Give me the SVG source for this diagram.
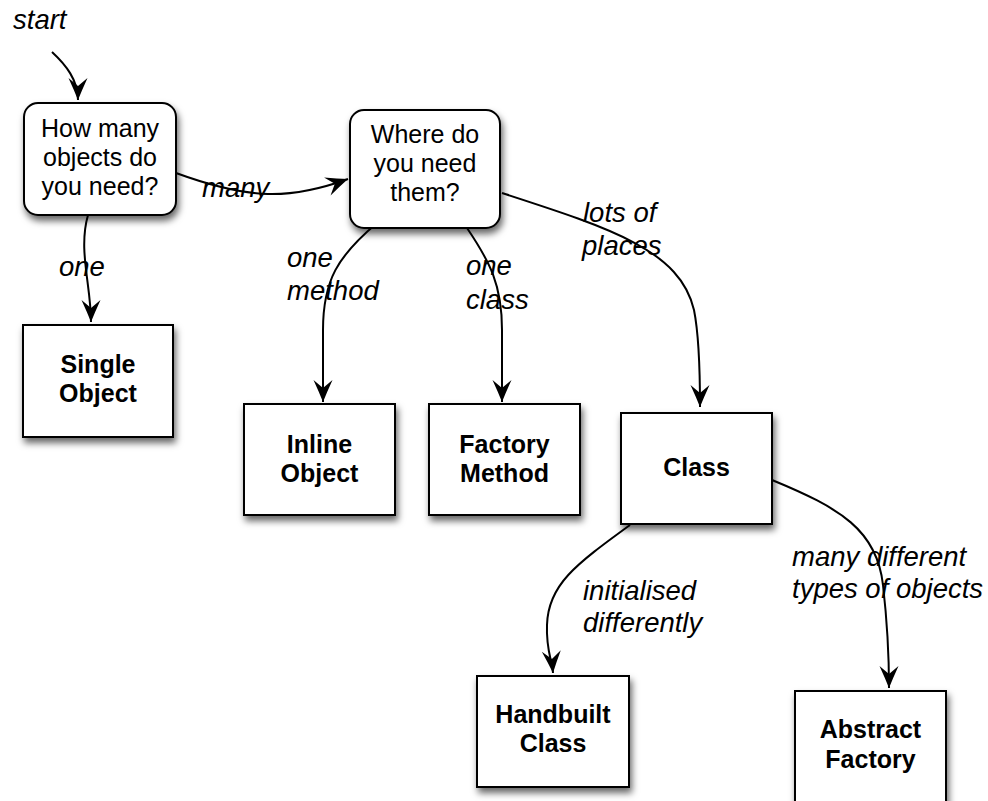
<svg xmlns="http://www.w3.org/2000/svg" width="988" height="801" viewBox="0 0 988 801">
  <style>
    .box { fill: #ffffff; stroke: #000000; stroke-width: 2; filter: url(#shadow); }
    .txt { font-family: "Liberation Sans", Helvetica, Arial, sans-serif; font-size: 25px; fill: #000; text-anchor: middle; }
    .bold { font-weight: bold; }
    .lbl { font-family: "Liberation Sans", Helvetica, Arial, sans-serif; font-size: 27.5px; font-style: italic; fill: #000; }
    .edge { fill: none; stroke: #000; stroke-width: 2; marker-end: url(#ah); }
  </style>
  <defs>
    <filter id="shadow" x="-20%" y="-20%" width="150%" height="150%">
      <feDropShadow dx="2" dy="5" stdDeviation="3.5" flood-color="#000" flood-opacity="0.6"/>
    </filter>
    <marker id="ah" markerUnits="userSpaceOnUse" markerWidth="30" markerHeight="26" viewBox="-26 -13 30 26" refX="0" refY="0" orient="auto">
      <path d="M0,0 Q-10,-4 -22,-9.5 L-14,0 L-22,9.5 Q-10,4 0,0 Z" fill="#000"/>
    </marker>
  </defs>
  <rect width="988" height="801" fill="#ffffff"/>

  <g id="connectors">
    <path class="edge" d="M52,52 C66,65 78,80 78,100"/>
    <path class="edge" d="M176,173 C250,200 290,200 348,179"/>
    <path class="edge" d="M88,215 C78,250 91,285 91,322"/>
    <path class="edge" d="M377,223 C338,256 323,280 323,330 L323,402"/>
    <path class="edge" d="M467,228 C490,262 502,285 502,330 L502,402"/>
    <path class="edge" d="M502,193 C610,228 680,250 694,310 C699,335 700,370 700,407"/>
    <path class="edge" d="M630,525 C575,565 548,585 547,625 C546,650 552,660 553,673"/>
    <path class="edge" d="M772,480 C840,508 877,530 883,585 C887,620 889,650 889,688"/>
  </g>

  <g id="labels">
    <text class="lbl" x="13" y="29">start</text>
    <text class="lbl" x="202" y="197">many</text>
    <text class="lbl" x="59" y="276">one</text>
    <text class="lbl" x="287" y="267">one</text>
    <text class="lbl" x="287" y="300">method</text>
    <text class="lbl" x="466" y="275">one</text>
    <text class="lbl" x="466" y="309">class</text>
    <text class="lbl" x="583" y="222">lots of</text>
    <text class="lbl" x="582" y="255">places</text>
    <text class="lbl" x="583" y="600">initialised</text>
    <text class="lbl" x="583" y="632">differently</text>
    <text class="lbl" x="792" y="566">many different</text>
    <text class="lbl" x="792" y="598">types of objects</text>
  </g>

  <g id="node-how-many">
    <rect class="box" x="24" y="103" width="152" height="112" rx="14" ry="14"/>
    <text class="txt" x="100" y="137">How many</text>
    <text class="txt" x="100" y="166">objects do</text>
    <text class="txt" x="100" y="195">you need?</text>
  </g>

  <g id="node-where">
    <rect class="box" x="350" y="110" width="150" height="118" rx="14" ry="14"/>
    <text class="txt" x="425" y="143">Where do</text>
    <text class="txt" x="425" y="172">you need</text>
    <text class="txt" x="425" y="201">them?</text>
  </g>

  <g id="node-single-object">
    <rect class="box" x="23" y="325" width="150" height="112"/>
    <text class="txt bold" x="98" y="373">Single</text>
    <text class="txt bold" x="98" y="402">Object</text>
  </g>

  <g id="node-inline-object">
    <rect class="box" x="244" y="404" width="151" height="111"/>
    <text class="txt bold" x="319.5" y="453">Inline</text>
    <text class="txt bold" x="319.5" y="482">Object</text>
  </g>

  <g id="node-factory-method">
    <rect class="box" x="429" y="404" width="151" height="111"/>
    <text class="txt bold" x="504.5" y="453">Factory</text>
    <text class="txt bold" x="504.5" y="482">Method</text>
  </g>

  <g id="node-class">
    <rect class="box" x="621" y="413" width="151" height="111"/>
    <text class="txt bold" x="696.5" y="476">Class</text>
  </g>

  <g id="node-handbuilt-class">
    <rect class="box" x="477" y="676" width="152" height="111"/>
    <text class="txt bold" x="553" y="723">Handbuilt</text>
    <text class="txt bold" x="553" y="752">Class</text>
  </g>

  <g id="node-abstract-factory">
    <rect class="box" x="795" y="691" width="151" height="112"/>
    <text class="txt bold" x="870.5" y="738">Abstract</text>
    <text class="txt bold" x="870.5" y="768">Factory</text>
  </g>
</svg>
